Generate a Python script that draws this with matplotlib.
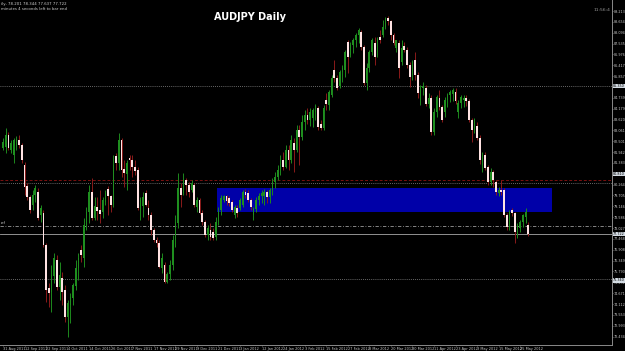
import numpy as np
import matplotlib
matplotlib.use("Agg")
import matplotlib.pyplot as plt
from matplotlib.patches import Rectangle

# === data: AUDJPY daily bars ===
date_labels = ["31 Aug 2011", "12 Sep 2011", "22 Sep 2011", "4 Oct 2011", "14 Oct 2011",
               "26 Oct 2011", "7 Nov 2011", "17 Nov 2011", "29 Nov 2011", "9 Dec 2011",
               "21 Dec 2011", "3 Jan 2012", "12 Jan 2012", "24 Jan 2012", "3 Feb 2012",
               "15 Feb 2012", "27 Feb 2012", "8 Mar 2012", "20 Mar 2012", "30 Mar 2012",
               "11 Apr 2012", "23 Apr 2012", "3 May 2012", "15 May 2012", "25 May 2012"]
label_bars = list(range(0, 193, 8))

opens = [82.15, 82.20, 82.82, 82.05, 81.79, 82.20, 82.56, 82.31, 81.27, 80.19,
         79.62, 79.21, 79.73, 79.88, 78.70, 78.80, 77.15, 74.93, 74.73, 75.55,
         76.38, 74.99, 75.45, 74.83, 73.44, 74.06, 74.42, 75.04, 75.96, 76.89,
         76.48, 78.18, 78.85, 79.88, 78.54, 79.11, 78.95, 78.85, 79.37, 80.04,
         79.68, 79.21, 81.74, 81.38, 82.56, 81.07, 80.81, 81.64, 81.53, 81.17,
         81.02, 78.95, 79.16, 79.83, 79.06, 78.70, 77.92, 77.41, 77.25, 75.96,
         76.12, 75.24, 75.66, 76.12, 77.41, 78.28, 80.09, 79.83, 80.50, 80.24,
         79.99, 80.24, 79.11, 79.47, 78.80, 78.34, 77.67, 77.92, 77.82, 77.56,
         78.34, 78.95, 79.47, 79.68, 79.57, 79.37, 78.70, 79.06, 79.06, 79.21,
         79.88, 79.83, 79.47, 78.70, 79.01, 79.47, 79.68, 79.68, 79.88, 79.62,
         79.99, 80.40, 80.66, 81.02, 81.53, 81.17, 82.05, 81.53, 82.41, 82.05,
         83.08, 82.72, 83.49, 83.85, 83.59, 83.70, 84.01, 84.21, 83.39, 83.18,
         84.63, 84.37, 84.88, 86.17, 85.76, 85.35, 86.07, 86.17, 87.61, 86.94,
         87.46, 87.72, 87.98, 88.13, 87.36, 85.50, 86.27, 87.10, 87.56, 86.94,
         87.87, 87.98, 88.39, 88.85, 88.70, 87.98, 87.31, 87.56, 86.58, 87.41,
         87.20, 86.43, 85.91, 86.69, 85.91, 84.63, 85.24, 85.24, 84.42, 84.73,
         82.98, 84.01, 84.73, 84.26, 84.01, 84.63, 84.88, 84.93, 85.04, 84.01,
         84.47, 84.63, 84.73, 84.57, 83.59, 83.08, 83.28, 82.67, 81.27, 81.79,
         81.17, 80.40, 80.91, 80.40, 79.83, 79.99, 79.99, 78.70, 78.08, 78.95,
         78.80, 77.61, 78.03, 78.34, 78.59, 78.201]

highs = [82.67, 83.18, 82.98, 82.56, 82.67, 82.77, 82.82, 82.41, 81.43, 80.35,
         79.73, 79.99, 80.24, 80.09, 79.21, 78.95, 77.25, 75.19, 76.12, 76.74,
         76.64, 76.27, 75.76, 75.09, 74.32, 74.68, 75.19, 76.38, 76.74, 77.15,
         78.54, 79.11, 80.24, 80.60, 79.62, 79.62, 79.99, 79.62, 79.99, 80.19,
         79.73, 81.79, 81.89, 82.92, 82.67, 81.53, 81.53, 81.79, 81.79, 81.53,
         81.17, 79.62, 79.88, 79.99, 79.47, 78.85, 78.03, 77.56, 77.41, 76.74,
         76.27, 75.76, 76.38, 77.67, 78.70, 80.86, 80.35, 80.86, 80.60, 80.40,
         80.50, 80.35, 79.62, 79.57, 78.95, 78.44, 78.18, 78.28, 78.03, 78.59,
         79.11, 79.73, 79.73, 79.73, 79.68, 79.47, 79.21, 79.21, 79.57, 79.99,
         80.04, 79.99, 79.57, 79.11, 79.62, 79.83, 79.99, 80.04, 79.99, 80.09,
         80.60, 80.91, 81.27, 81.79, 81.94, 82.31, 82.31, 82.82, 82.67, 83.34,
         83.34, 83.85, 84.11, 84.21, 84.21, 84.21, 84.42, 84.32, 83.59, 84.37,
         84.99, 85.14, 85.91, 86.69, 85.91, 86.17, 86.43, 87.20, 87.72, 87.61,
         87.82, 88.08, 88.34, 88.23, 87.46, 86.53, 87.20, 87.82, 87.87, 87.87,
         88.23, 88.75, 88.90, 88.96, 88.75, 88.08, 87.72, 87.72, 87.72, 87.61,
         87.36, 86.58, 86.69, 87.10, 86.07, 85.40, 85.55, 85.40, 84.99, 84.88,
         84.21, 84.88, 85.14, 84.37, 84.78, 84.99, 85.14, 85.24, 85.24, 84.63,
         84.88, 84.88, 84.88, 84.68, 83.70, 83.70, 83.49, 82.82, 81.94, 81.94,
         81.27, 81.12, 81.02, 80.50, 80.14, 80.50, 80.09, 78.80, 78.95, 79.06,
         78.85, 78.28, 78.44, 78.75, 79.06, 78.344]

lows = [82.05, 81.89, 82.05, 81.89, 81.38, 82.05, 82.15, 81.38, 79.73, 79.47,
        78.80, 78.95, 79.37, 78.44, 78.34, 77.05, 74.21, 73.95, 73.70, 75.19,
        74.83, 74.32, 74.06, 73.18, 72.41, 73.13, 74.06, 74.83, 75.35, 76.27,
        76.02, 77.92, 78.28, 78.44, 78.44, 78.44, 78.28, 78.54, 79.21, 78.70,
        78.85, 79.11, 81.02, 81.02, 80.66, 80.14, 79.99, 81.02, 80.66, 80.76,
        78.95, 78.44, 78.59, 79.16, 78.44, 77.67, 77.31, 77.05, 75.96, 75.71,
        75.19, 75.19, 75.35, 75.86, 77.05, 78.03, 79.11, 79.73, 79.73, 79.62,
        79.88, 79.11, 78.85, 78.75, 78.18, 77.56, 77.41, 77.41, 77.41, 77.41,
        78.18, 78.70, 79.37, 79.21, 79.16, 78.85, 78.54, 78.59, 78.95, 79.11,
        79.57, 79.37, 78.95, 78.44, 78.85, 79.21, 79.32, 79.21, 79.32, 79.32,
        79.73, 80.09, 80.50, 80.76, 81.02, 81.12, 81.02, 81.38, 80.91, 81.94,
        81.27, 82.56, 83.08, 83.39, 83.28, 83.23, 83.59, 83.08, 83.08, 83.08,
        84.11, 84.11, 84.78, 85.55, 85.14, 85.24, 85.55, 85.81, 86.02, 86.84,
        87.05, 87.36, 87.56, 87.20, 85.40, 85.14, 86.07, 86.94, 86.43, 86.84,
        87.56, 87.87, 88.29, 88.49, 87.72, 87.46, 87.10, 85.76, 86.43, 87.10,
        86.27, 85.30, 85.66, 85.66, 84.73, 84.37, 84.88, 84.32, 84.21, 82.82,
        82.82, 83.75, 84.11, 83.49, 83.75, 84.26, 84.52, 84.57, 84.42, 83.70,
        84.21, 84.26, 84.32, 83.49, 82.46, 82.92, 82.56, 81.33, 80.91, 81.02,
        80.24, 80.24, 80.14, 79.73, 79.68, 79.73, 78.59, 77.92, 77.92, 78.65,
        77.25, 77.51, 77.82, 78.08, 78.28, 77.637]

closes = [82.46, 82.82, 82.15, 82.41, 82.56, 82.61, 82.31, 81.53, 80.14, 79.62,
          78.95, 79.73, 80.09, 78.54, 79.06, 77.15, 74.83, 74.68, 75.60, 76.48,
          74.99, 75.60, 74.73, 73.44, 74.16, 74.47, 75.09, 75.96, 76.48, 76.64,
          78.18, 78.85, 79.88, 78.54, 79.16, 78.90, 78.75, 79.47, 79.83, 79.68,
          79.21, 81.27, 81.38, 82.56, 81.02, 80.86, 81.38, 81.53, 81.17, 80.96,
          79.06, 79.47, 79.62, 79.21, 78.70, 77.92, 77.41, 77.25, 76.02, 76.48,
          75.24, 75.66, 76.12, 77.41, 78.34, 80.09, 79.73, 80.50, 80.24, 79.88,
          80.35, 79.21, 79.47, 78.80, 78.34, 77.67, 78.03, 77.56, 77.51, 78.34,
          78.95, 79.57, 79.68, 79.42, 79.32, 78.95, 79.11, 78.80, 79.47, 79.88,
          79.73, 79.47, 79.11, 79.01, 79.47, 79.68, 79.83, 79.88, 79.62, 79.99,
          80.40, 80.66, 81.02, 81.53, 81.17, 82.05, 81.53, 82.56, 82.05, 83.08,
          82.72, 83.49, 83.85, 83.59, 84.01, 84.11, 84.32, 83.23, 83.18, 84.21,
          84.42, 85.04, 85.76, 85.76, 85.24, 86.07, 86.27, 87.10, 86.84, 87.46,
          87.72, 87.98, 88.23, 87.36, 85.50, 86.27, 87.10, 87.72, 86.84, 87.72,
          87.72, 88.39, 88.80, 88.70, 87.98, 87.56, 87.72, 86.27, 87.31, 87.20,
          86.43, 85.81, 86.58, 85.91, 84.99, 85.24, 85.35, 84.42, 84.73, 82.98,
          84.01, 84.78, 84.26, 83.59, 84.63, 84.88, 85.04, 85.14, 84.57, 84.47,
          84.78, 84.73, 84.57, 83.59, 83.08, 83.59, 82.67, 81.53, 81.79, 81.12,
          80.40, 80.91, 80.50, 79.88, 79.99, 79.88, 78.70, 78.08, 78.85, 78.80,
          77.82, 78.13, 78.34, 78.70, 78.85, 77.722]

# supply/demand zone (bar index range and price range)
zone_start, zone_end = 79.5, 204.0
zone_low, zone_high = 78.86, 80.09

# horizontal levels
level_top = 85.35
level_red = 80.50
level_grey = 80.35
level_ref = 78.13
bid = 77.722
level_low = 75.38
marked_prices = [85.35, 80.81, 77.722, 75.34]

# === figure ===
fig = plt.figure(figsize=(6.25, 3.51), dpi=100, facecolor="black")
ax = fig.add_axes([0, 6 / 351, 612 / 625, 345 / 351])
ax.set_facecolor("black")

o = np.array(opens)
h = np.array(highs)
l = np.array(lows)
c = np.array(closes)
x = np.arange(len(c))
up = c >= o

ax.add_patch(Rectangle((zone_start, zone_low), zone_end - zone_start, zone_high - zone_low,
                       facecolor="#0000a8", edgecolor="none", zorder=1))

ax.axhline(level_top, color="#8a8a8a", lw=0.6, ls=(0, (1, 1.5)), zorder=2)
ax.axhline(level_red, color="#7a1010", lw=0.7, ls=(0, (3, 2)), zorder=2)
ax.axhline(level_grey, color="#8a8a8a", lw=0.6, ls=(0, (1, 1.5)), zorder=2)
ax.axhline(level_ref, color="#9a9a9a", lw=0.6, ls=(0, (4, 2, 1, 2)), zorder=2)
ax.axhline(bid, color="#a8a8a8", lw=0.6, zorder=2)
ax.axhline(level_low, color="#8a8a8a", lw=0.6, ls=(0, (1, 1.5)), zorder=2)

# candles
ax.vlines(x[up], l[up], h[up], color="#1d8a1d", lw=0.7, zorder=3)
ax.vlines(x[~up], l[~up], h[~up], color="#8a1a1a", lw=0.7, zorder=3)
body_up = np.maximum(c[up] - o[up], 0.04)
body_dn = np.maximum(o[~up] - c[~up], 0.04)
ax.bar(x[up], body_up, bottom=o[up], width=0.62, color="#1f8f1f", lw=0, zorder=4)
ax.bar(x[~up], body_dn, bottom=c[~up], width=0.62, color="#ffe2e2", lw=0, zorder=4)

ax.set_xlim(-1.114, 226.1)
ax.set_ylim(72.00, 89.78)

# price axis
ax.yaxis.tick_right()
yticks = np.arange(89.213, 71.9, -0.5593)
ax.set_yticks(yticks)
ax.set_yticklabels([f"{v:.3f}" for v in yticks])
ax.tick_params(axis="y", colors="#8a8a8a", labelcolor="#c8c8c8", labelsize=2.4,
               length=1.0, width=0.5, pad=0.3)

# date axis
ax.set_xticks(label_bars)
ax.set_xticklabels(date_labels)
for lab in ax.get_xticklabels():
    lab.set_horizontalalignment("left")
ax.tick_params(axis="x", colors="#8a8a8a", labelcolor="#c8c8c8", labelsize=2.5,
               length=1.0, width=0.5, pad=0.3)

for side in ["top", "left"]:
    ax.spines[side].set_visible(False)
for side in ["right", "bottom"]:
    ax.spines[side].set_color("#8a8a8a")
    ax.spines[side].set_linewidth(0.7)

# price boxes for the lines
for p in marked_prices:
    ax.text(1.0015, p, f"{p:.3f}", transform=ax.get_yaxis_transform(), fontsize=2.4,
            color="black", va="center", ha="left", clip_on=False, zorder=10,
            bbox=dict(boxstyle="square,pad=0.1", fc="#d4dce4", ec="none"))

ax.text(-0.9, level_ref + 0.04, "ref", fontsize=2.6, color="#c8c8c8", va="bottom", ha="left")

fig.text(250 / 625, 1 - 17 / 351, "AUDJPY Daily", color="white", fontsize=7,
         fontweight="bold", ha="center", va="center")
fig.text(0.002, 1 - 4 / 351, "ily, 78.201 78.344 77.637 77.722", color="#d0d0d0",
         fontsize=2.8, va="center", ha="left")
fig.text(0.002, 1 - 9.5 / 351, "minutes 4 seconds left to bar end", color="#d0d0d0",
         fontsize=2.8, va="center", ha="left")
fig.text(610 / 625, 1 - 10 / 351, "11:56:4", color="#9a9a9a", fontsize=3.2,
         va="center", ha="right")

fig.savefig("out.png", dpi=100, facecolor="black")
